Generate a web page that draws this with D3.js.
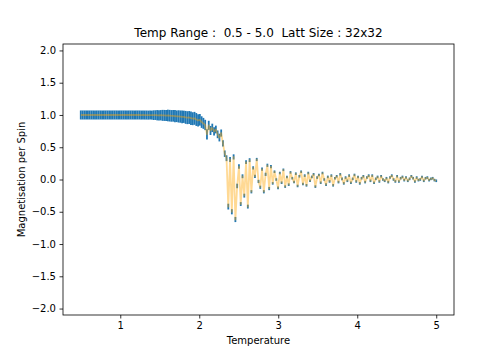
<!DOCTYPE html>
<html>
<head>
<meta charset="utf-8">
<script src="https://cdn.jsdelivr.net/npm/d3@7"></script>
<style>
  body { margin: 0; background: #fff; }
  svg { display: block; font-family: "DejaVu Sans", sans-serif; }
</style>
</head>
<body>
<svg id="chart" width="504" height="360"></svg>
<script>
// temperature grid (0.5 -> 5.0, step 0.0225)
const temps = [
  0.5000,0.5225,0.5450,0.5675,0.5900,0.6125,0.6350,0.6575,
  0.6800,0.7025,0.7250,0.7475,0.7700,0.7925,0.8150,0.8375,
  0.8600,0.8825,0.9050,0.9275,0.9500,0.9725,0.9950,1.0175,
  1.0400,1.0625,1.0850,1.1075,1.1300,1.1525,1.1750,1.1975,
  1.2200,1.2425,1.2650,1.2875,1.3100,1.3325,1.3550,1.3775,
  1.4000,1.4225,1.4450,1.4675,1.4900,1.5125,1.5350,1.5575,
  1.5800,1.6025,1.6250,1.6475,1.6700,1.6925,1.7150,1.7375,
  1.7600,1.7825,1.8050,1.8275,1.8500,1.8725,1.8950,1.9175,
  1.9400,1.9625,1.9850,2.0075,2.0300,2.0525,2.0750,2.0975,
  2.1200,2.1425,2.1650,2.1875,2.2100,2.2325,2.2550,2.2775,
  2.3000,2.3225,2.3450,2.3675,2.3900,2.4125,2.4350,2.4575,
  2.4800,2.5025,2.5250,2.5475,2.5700,2.5925,2.6150,2.6375,
  2.6600,2.6825,2.7050,2.7275,2.7500,2.7725,2.7950,2.8175,
  2.8400,2.8625,2.8850,2.9075,2.9300,2.9525,2.9750,2.9975,
  3.0200,3.0425,3.0650,3.0875,3.1100,3.1325,3.1550,3.1775,
  3.2000,3.2225,3.2450,3.2675,3.2900,3.3125,3.3350,3.3575,
  3.3800,3.4025,3.4250,3.4475,3.4700,3.4925,3.5150,3.5375,
  3.5600,3.5825,3.6050,3.6275,3.6500,3.6725,3.6950,3.7175,
  3.7400,3.7625,3.7850,3.8075,3.8300,3.8525,3.8750,3.8975,
  3.9200,3.9425,3.9650,3.9875,4.0100,4.0325,4.0550,4.0775,
  4.1000,4.1225,4.1450,4.1675,4.1900,4.2125,4.2350,4.2575,
  4.2800,4.3025,4.3250,4.3475,4.3700,4.3925,4.4150,4.4375,
  4.4600,4.4825,4.5050,4.5275,4.5500,4.5725,4.5950,4.6175,
  4.6400,4.6625,4.6850,4.7075,4.7300,4.7525,4.7750,4.7975,
  4.8200,4.8425,4.8650,4.8875,4.9100,4.9325,4.9550,4.9775,
  5.0000
]

// magnetisation per spin
const magnet = [
  1.000,1.000,1.000,1.000,1.000,1.000,1.000,1.000,
  1.000,1.000,1.000,1.000,1.000,1.000,1.000,1.000,
  1.000,1.000,1.000,1.000,1.000,1.000,1.000,1.000,
  1.000,1.000,1.000,1.000,1.000,1.000,1.000,1.000,
  1.000,1.000,0.999,1.000,0.999,0.999,0.998,0.999,
  0.998,0.997,0.998,0.996,0.995,0.996,0.994,0.993,
  0.991,0.992,0.989,0.986,0.987,0.983,0.980,0.978,
  0.975,0.970,0.972,0.963,0.958,0.961,0.950,0.942,
  0.948,0.930,0.915,0.925,0.890,0.870,0.845,0.700,
  0.840,0.760,0.800,0.745,0.775,0.700,0.650,0.720,
  0.560,0.400,0.330,-0.420,0.310,-0.500,0.350,-0.620,
  -0.100,0.200,-0.380,0.050,-0.250,0.270,-0.420,0.300,
  -0.190,0.180,0.050,0.310,-0.030,-0.120,0.160,-0.190,
  0.080,0.220,-0.140,0.200,-0.060,0.120,0.000,-0.130,
  0.100,-0.050,0.150,-0.110,0.040,-0.080,0.110,0.020,
  -0.040,0.090,-0.100,0.050,0.120,-0.070,0.060,-0.090,
  0.100,-0.020,0.040,0.080,-0.110,0.030,0.070,-0.050,
  0.100,0.000,-0.080,0.040,-0.030,0.060,-0.090,0.020,
  0.050,-0.040,0.080,0.010,-0.060,0.030,-0.020,0.060,
  -0.050,0.010,0.070,-0.030,0.040,-0.060,0.020,0.050,
  -0.040,0.030,0.060,-0.020,0.060,-0.050,0.010,0.040,
  -0.030,0.050,0.000,-0.020,0.020,-0.040,0.030,0.060,
  0.000,-0.030,0.050,-0.030,0.020,0.040,-0.010,0.030,
  -0.020,0.010,0.050,0.020,-0.030,0.030,-0.010,0.000,
  0.040,-0.020,0.020,0.030,-0.010,0.010,0.020,-0.010,
  -0.020
]

// error bar half-heights
const errs = [
  0.07,0.07,0.07,0.07,0.07,0.07,0.07,0.07,
  0.07,0.07,0.07,0.07,0.07,0.07,0.07,0.07,
  0.07,0.07,0.07,0.07,0.07,0.07,0.07,0.07,
  0.07,0.07,0.07,0.07,0.07,0.07,0.07,0.07,
  0.07,0.07,0.07,0.07,0.07,0.07,0.07,0.07,
  0.07,0.075,0.075,0.08,0.08,0.08,0.085,0.085,
  0.085,0.09,0.09,0.09,0.09,0.095,0.09,0.095,
  0.095,0.1,0.095,0.1,0.1,0.1,0.105,0.1,
  0.1,0.1,0.095,0.09,0.09,0.085,0.08,0.08,
  0.07,0.07,0.065,0.065,0.06,0.06,0.06,0.055,
  0.05,0.05,0.045,0.045,0.04,0.04,0.04,0.04,
  0.035,0.035,0.03,0.03,0.03,0.03,0.03,0.03,
  0.025,0.025,0.025,0.025,0.025,0.025,0.025,0.025,
  0.025,0.025,0.025,0.025,0.02,0.02,0.02,0.02,
  0.02,0.02,0.02,0.02,0.02,0.02,0.02,0.02,
  0.02,0.02,0.02,0.02,0.02,0.02,0.02,0.02,
  0.02,0.02,0.02,0.02,0.02,0.02,0.02,0.02,
  0.02,0.02,0.02,0.02,0.02,0.02,0.02,0.02,
  0.02,0.02,0.02,0.02,0.02,0.02,0.02,0.02,
  0.02,0.02,0.02,0.02,0.02,0.02,0.02,0.02,
  0.02,0.02,0.02,0.02,0.02,0.02,0.02,0.02,
  0.02,0.02,0.02,0.02,0.02,0.02,0.02,0.02,
  0.02,0.02,0.02,0.02,0.02,0.02,0.02,0.02,
  0.02,0.02,0.02,0.02,0.02,0.02,0.02,0.02,
  0.02,0.02,0.02,0.02,0.02,0.02,0.02,0.02,
  0.02
]

const xTicks = [1, 2, 3, 4, 5]
const yTicks = [-2.0, -1.5, -1.0, -0.5, 0.0, 0.5, 1.0, 1.5, 2.0]
const title = 'Temp Range :  0.5 - 5.0  Latt Size : 32x32'

const margin = {top: 44, right: 50, bottom: 45, left: 63}
const width = 504 - margin.left - margin.right
const height = 360 - margin.top - margin.bottom

const svg = d3.select('#chart')
const g = svg.append('g').attr('transform', `translate(${margin.left},${margin.top})`)

const x = d3.scaleLinear().domain([0.275, 5.225]).range([0, width])
const y = d3.scaleLinear().domain([-2.1, 2.1]).range([height, 0])

const data = temps.map((t, i) => ({t: t, m: magnet[i], e: errs[i]}))

// error bars first, the orange line goes over them
g.selectAll('line.err')
    .data(data)
    .enter()
    .append('line')
    .attr('class', 'err')
    .attr('x1', d => x(d.t))
    .attr('x2', d => x(d.t))
    .attr('y1', d => y(d.m - d.e))
    .attr('y2', d => y(d.m + d.e))
    .style('stroke', '#1f77b4')
    .style('stroke-width', 1.8)

const line = d3.line().x(d => x(d.t)).y(d => y(d.m))
g.append('path')
    .datum(data)
    .attr('d', line)
    .style('fill', 'none')
    .style('stroke', 'orange')
    .style('stroke-opacity', 0.42)
    .style('stroke-width', 1.8)
    .style('stroke-linejoin', 'round')

// axes
const xAxis = g.append('g')
    .attr('transform', `translate(0,${height})`)
    .call(d3.axisBottom(x).tickValues(xTicks).tickFormat(d3.format('d')).tickSize(3.5).tickPadding(3.5).tickSizeOuter(0))
const yAxis = g.append('g')
    .call(d3.axisLeft(y).tickValues(yTicks).tickFormat(d3.format('.1f')).tickSize(3.5).tickPadding(3.5).tickSizeOuter(0))

;[xAxis, yAxis].forEach(a => {
    a.select('.domain').remove()
    a.selectAll('.tick line').style('stroke', '#000').style('stroke-width', 0.8)
    a.selectAll('.tick text').style('font-size', '10px').style('fill', '#000')
        .style('font-family', '"DejaVu Sans", sans-serif')
})

g.append('rect')
    .attr('width', width)
    .attr('height', height)
    .style('fill', 'none')
    .style('stroke', '#000')
    .style('stroke-width', 0.8)

// labels
svg.append('text')
    .attr('x', margin.left + width / 2)
    .attr('y', 37)
    .attr('text-anchor', 'middle')
    .style('font-size', '12px')
    .style('white-space', 'pre')
    .text(title)

svg.append('text')
    .attr('x', margin.left + width / 2)
    .attr('y', 344)
    .attr('text-anchor', 'middle')
    .style('font-size', '10px')
    .text('Temperature')

svg.append('text')
    .attr('transform', `translate(25,${margin.top + height / 2}) rotate(-90)`)
    .attr('text-anchor', 'middle')
    .style('font-size', '10px')
    .text('Magnetisation per Spin')
</script>
</body>
</html>
